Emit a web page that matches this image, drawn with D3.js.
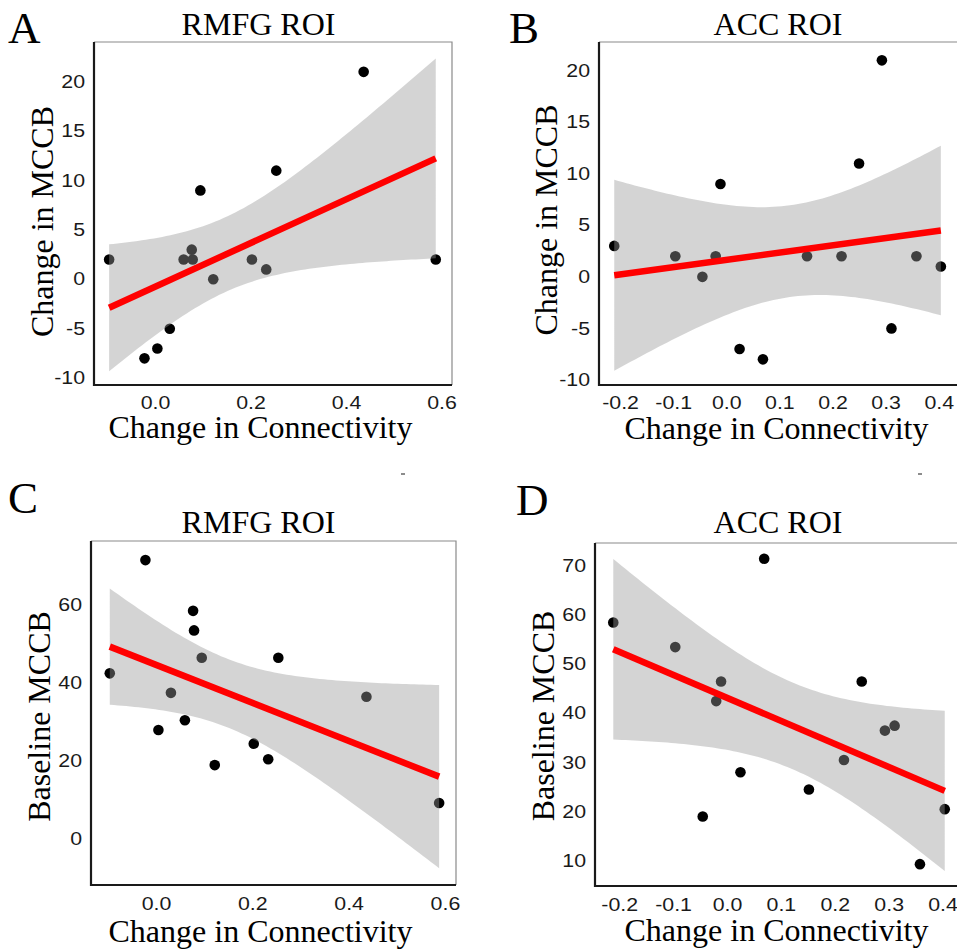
<!DOCTYPE html>
<html>
<head>
<meta charset="utf-8">
<script src="https://cdn.jsdelivr.net/npm/d3@7"></script>
<style>
  body { margin: 0; background: #fff; }
  svg { display: block; }
</style>
</head>
<body>
<svg id="fig" width="957" height="950"></svg>
<script>
// one entry per subject, same order in every array
const rmfgConn     = [-0.096, -0.022, 0.005, 0.031, 0.060, 0.077, 0.079, 0.095, 0.122, 0.203, 0.233, 0.254, 0.437, 0.588];
const accConn      = [-0.020, 0.069, 0.025, 0.311, 0.217, -0.211, -0.096, -0.011, -0.045, 0.152, 0.404, 0.250, 0.293, 0.358];
const mccbChange   = [2, -8, -7, -5, 2, 3, 2, 9, 0, 2, 1, 11, 21, 2];
const mccbBaseline = [42.5, 71.5, 28, 37.5, 30.5, 58.5, 53.5, 46.5, 19, 24.5, 20.5, 46.5, 36.5, 9.3];

const rmfgTicks   = [0, 0.2, 0.4, 0.6];
const accTicks    = [-0.2, -0.1, 0, 0.1, 0.2, 0.3, 0.4];
const changeTicks = [-10, -5, 0, 5, 10, 15, 20];
const rmfgBaseTicks = [0, 20, 40, 60];
const accBaseTicks  = [10, 20, 30, 40, 50, 60, 70];

const T975 = 2.1788; // t quantile, df = 12 (n = 14)

const serif = "'Liberation Serif', 'Times New Roman', serif";
const sans = "'Liberation Sans', Arial, Helvetica, sans-serif";
const tickSize = 17.5;
const tickStretch = 1.22;

const panels = [
  {
    letter: "A", letterPos: [8, 43], title: "RMFG ROI", titlePos: [258.5, 35],
    box: { l: 94, t: 42, r: 452, b: 385 },
    xDomain: [-0.1277, 0.622], yDomain: [-10.70, 24.02],
    x: rmfgConn, y: mccbChange, xTicks: rmfgTicks, yTicks: changeTicks,
    ylab: "Change in MCCB", ylabPos: [53, 221.5], xlabPos: [260.5, 438], xPad: 12
  },
  {
    letter: "B", letterPos: [509, 43], title: "ACC ROI", titlePos: [778, 35],
    box: { l: 599, t: 42, r: 958, b: 385 },
    xDomain: [-0.2397, 0.4363], yDomain: [-10.49, 22.78],
    x: accConn, y: mccbChange, xTicks: accTicks, yTicks: changeTicks,
    ylab: "Change in MCCB", ylabPos: [557, 220], xlabPos: [776.5, 439], xPad: 11.5
  },
  {
    letter: "C", letterPos: [8, 513], title: "RMFG ROI", titlePos: [258.5, 533],
    box: { l: 91, t: 541, r: 456, b: 885 },
    xDomain: [-0.135, 0.623], yDomain: [-11.70, 76.39],
    x: rmfgConn, y: mccbBaseline, xTicks: rmfgTicks, yTicks: rmfgBaseTicks,
    ylab: "Baseline MCCB", ylabPos: [50, 716.5], xlabPos: [260.5, 942], xPad: 12.5
  },
  {
    letter: "D", letterPos: [516, 515], title: "ACC ROI", titlePos: [778, 533],
    box: { l: 595, t: 543, r: 958, b: 886 },
    xDomain: [-0.2449, 0.4286], yDomain: [4.85, 74.70],
    x: accConn, y: mccbBaseline, xTicks: accTicks, yTicks: accBaseTicks,
    ylab: "Baseline MCCB", ylabPos: [554, 716], xlabPos: [776.5, 941], xPad: 12.5
  }
];

// ordinary least squares with 95% confidence band (like geom_smooth(method = "lm"))
function fitLm(xs, ys) {
  const n = xs.length;
  const mx = d3.mean(xs), my = d3.mean(ys);
  let sxx = 0, sxy = 0;
  xs.forEach((v, i) => { sxx += (v - mx) ** 2; sxy += (v - mx) * (ys[i] - my); });
  const slope = sxy / sxx;
  const icpt = my - slope * mx;
  let sse = 0;
  xs.forEach((v, i) => { sse += (ys[i] - (icpt + slope * v)) ** 2; });
  const s = Math.sqrt(sse / (n - 2));
  const [x0, x1] = d3.extent(xs);
  const band = d3.range(0, 81).map(k => {
    const xv = x0 + (x1 - x0) * k / 80;
    const fit = icpt + slope * xv;
    const half = T975 * s * Math.sqrt(1 / n + (xv - mx) ** 2 / sxx);
    return { x: xv, fit, lo: fit - half, hi: fit + half };
  });
  return { band, x0, x1, f: v => icpt + slope * v };
}

const svg = d3.select("#fig");

panels.forEach(p => {
  const x = d3.scaleLinear().domain(p.xDomain).range([p.box.l, p.box.r]);
  const y = d3.scaleLinear().domain(p.yDomain).range([p.box.b, p.box.t]);
  const g = svg.append("g");

  const pts = p.x.map((v, i) => ({ x: v, y: p.y[i] }));
  const lm = fitLm(p.x, p.y);

  // points first, the translucent band is laid over them
  g.selectAll("circle")
   .data(pts)
   .enter()
   .append("circle")
   .attr("cx", d => x(d.x))
   .attr("cy", d => y(d.y))
   .attr("r", 5.3)
   .attr("fill", "#000");

  g.append("path")
   .datum(lm.band)
   .attr("d", d3.area().x(d => x(d.x)).y0(d => y(d.lo)).y1(d => y(d.hi)))
   .attr("fill", "#999")
   .attr("fill-opacity", 0.42);

  g.append("line")
   .attr("x1", x(lm.x0)).attr("y1", y(lm.f(lm.x0)))
   .attr("x2", x(lm.x1)).attr("y2", y(lm.f(lm.x1)))
   .attr("stroke", "#ff0000")
   .attr("stroke-width", 6.5);

  // frame: grey top/right, dark left/bottom
  g.append("path")
   .attr("d", `M${p.box.l},${p.box.t}H${p.box.r}V${p.box.b}`)
   .attr("fill", "none")
   .attr("stroke", "#8a8a8a")
   .attr("stroke-width", 1.2);
  g.append("path")
   .attr("d", `M${p.box.l},${p.box.t}V${p.box.b}H${p.box.r}`)
   .attr("fill", "none")
   .attr("stroke", "#1a1a1a")
   .attr("stroke-width", 2.2);

  // axes (labels only, no tick marks)
  const yAxis = g.append("g")
    .attr("transform", `translate(${p.box.l},0)`)
    .call(d3.axisLeft(y).tickValues(p.yTicks).tickSize(0).tickPadding(9).tickFormat(d3.format("d")));
  const xAxis = g.append("g")
    .attr("transform", `translate(0,${p.box.b})`)
    .call(d3.axisBottom(x).tickValues(p.xTicks).tickSize(0).tickPadding(p.xPad).tickFormat(d3.format(".1f")));

  [yAxis, xAxis].forEach(ax => {
    ax.select(".domain").remove();
    ax.selectAll("text")
      .attr("font-family", sans)
      .attr("font-size", tickSize)
      .attr("fill", "#1a1a1a")
      .attr("transform", `scale(${tickStretch},1)`);
  });
  yAxis.selectAll("text").attr("x", -9 / tickStretch);
  // d3 uses a unicode minus; the figure uses a plain hyphen
  [yAxis, xAxis].forEach(ax => ax.selectAll("text").text(function () {
    return this.textContent.replace("\u2212", "-");
  }));

  // texts
  svg.append("text")
     .attr("x", p.letterPos[0]).attr("y", p.letterPos[1])
     .attr("font-family", serif).attr("font-size", 45)
     .text(p.letter);

  svg.append("text")
     .attr("x", p.titlePos[0]).attr("y", p.titlePos[1])
     .attr("text-anchor", "middle")
     .attr("font-family", serif).attr("font-size", 32)
     .text(p.title);

  svg.append("text")
     .attr("x", p.xlabPos[0]).attr("y", p.xlabPos[1])
     .attr("text-anchor", "middle")
     .attr("font-family", serif).attr("font-size", 32)
     .text("Change in Connectivity");

  svg.append("text")
     .attr("transform", `translate(${p.ylabPos[0]},${p.ylabPos[1]}) rotate(-90)`)
     .attr("text-anchor", "middle")
     .attr("font-family", serif).attr("font-size", 32)
     .text(p.ylab);
});

// small leftover marks above the lower panels
[403, 920].forEach(mx => {
  svg.append("line")
     .attr("x1", mx - 2).attr("x2", mx + 2)
     .attr("y1", 474).attr("y2", 474)
     .attr("stroke", "#666").attr("stroke-width", 1.5);
});
</script>
</body>
</html>
